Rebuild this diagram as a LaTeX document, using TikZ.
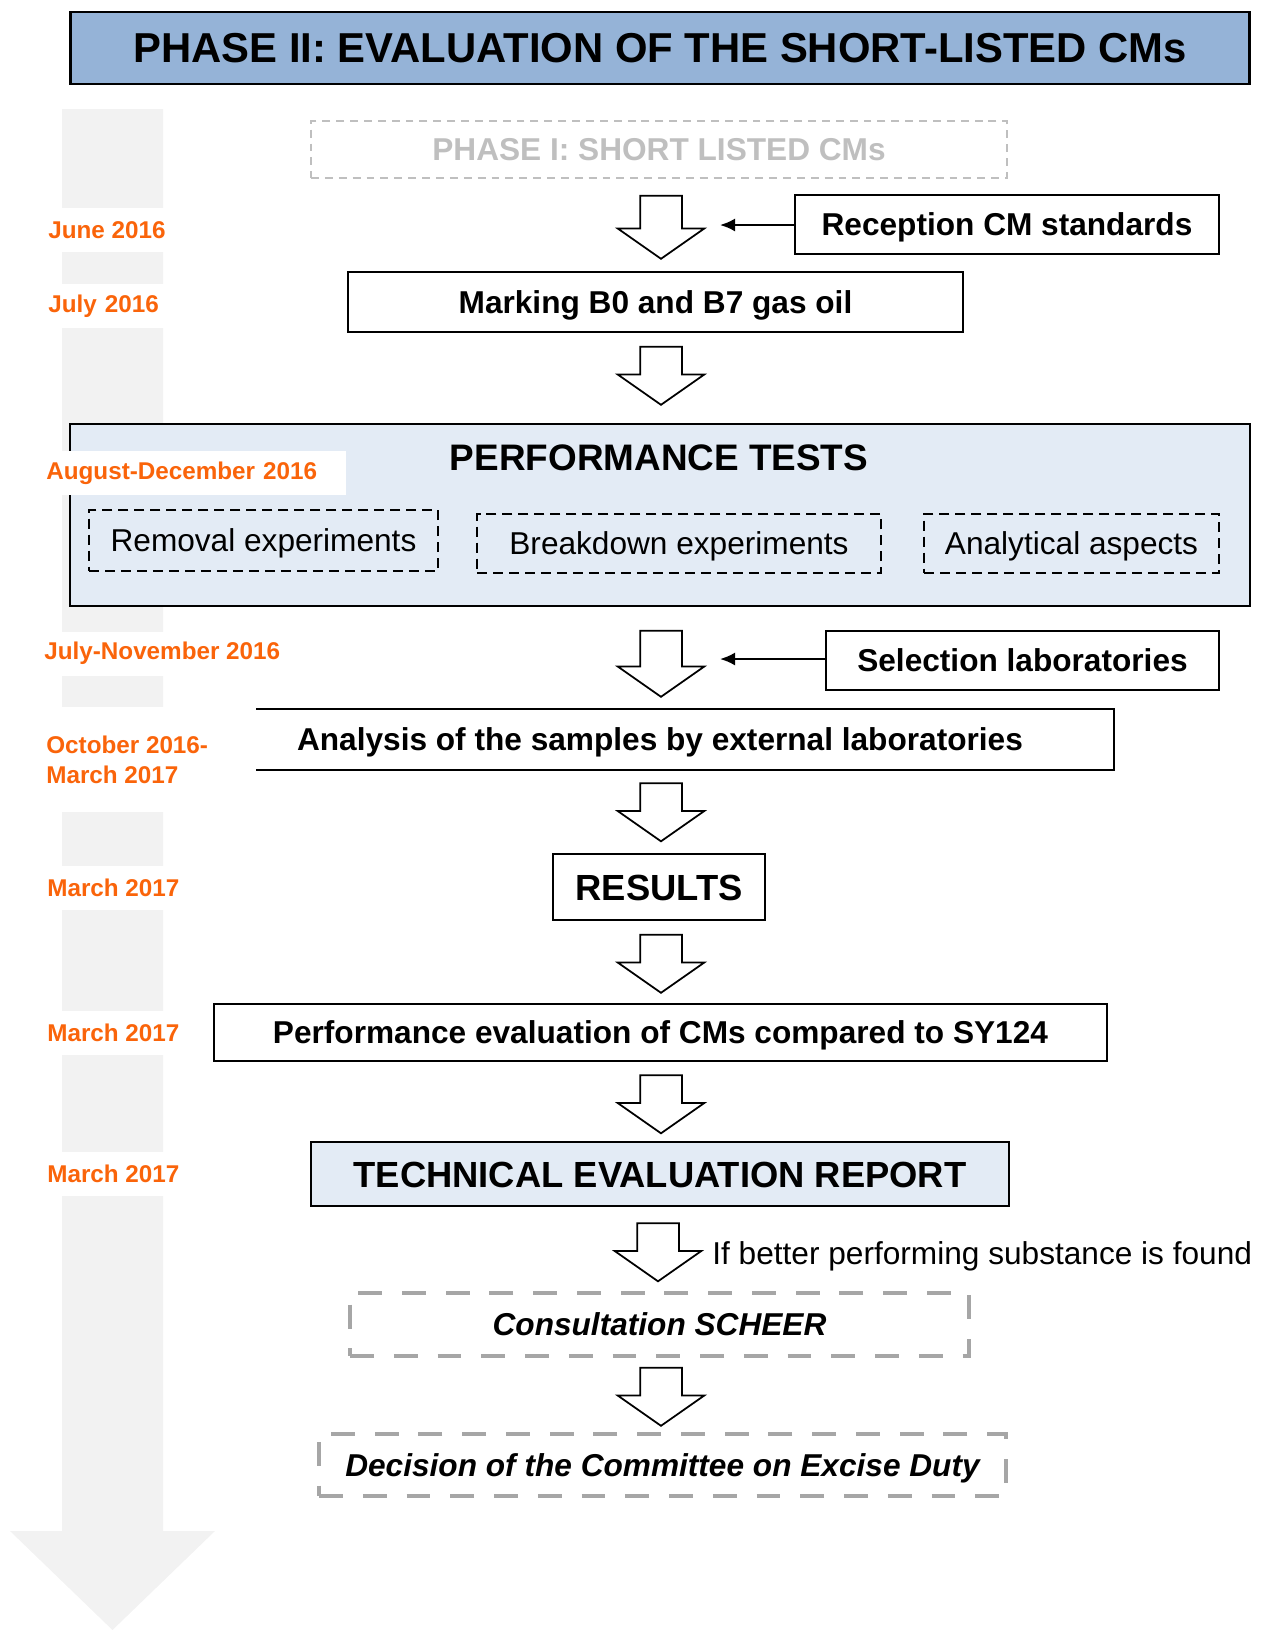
\documentclass[tikz,border=0pt]{standalone}
\usepackage{fontspec}
\setmainfont{Liberation Sans}
\usetikzlibrary{arrows.meta, shapes.arrows, positioning}
\definecolor{datecol}{RGB}{250,100,10}
\definecolor{headblue}{RGB}{149,179,215}
\definecolor{paleblue}{RGB}{227,235,245}
\definecolor{timegray}{RGB}{242,242,242}
\definecolor{ghostgray}{RGB}{191,191,191}
\definecolor{dashgray}{RGB}{166,166,166}
\tikzstyle{stage} = [rectangle, draw, line width=1.2pt, inner sep=0pt, text height=12.9pt, text depth=0pt, font=\fontsize{18}{22}\selectfont\bfseries]
\tikzstyle{headbox} = [stage, fill=headblue, line width=1.6pt, text height=17pt, font=\fontsize{23.8}{28}\selectfont\bfseries]
\tikzstyle{bigstage} = [stage, fill=paleblue, text height=14.8pt, font=\fontsize{20.7}{25}\selectfont\bfseries]
\tikzstyle{testbox} = [rectangle, draw, dash pattern=on 5.7pt off 3.4pt, line width=1.2pt, inner sep=0pt, text height=12.9pt, text depth=0pt, font=\fontsize{18}{22}\selectfont]
\tikzstyle{ghostbox} = [rectangle, draw=ghostgray, dash pattern=on 4.5pt off 3.4pt, line width=1pt, inner sep=0pt, text height=12.9pt, text depth=0pt, text=ghostgray, font=\fontsize{18}{22}\selectfont\bfseries]
\tikzstyle{optbox} = [rectangle, draw=dashgray, dash pattern=on 13.6pt off 11.3pt, line width=2.6pt, inner sep=0pt, text height=12.9pt, text depth=0pt, font=\fontsize{18}{22}\selectfont\bfseries\itshape]
\tikzstyle{when} = [anchor=west, fill=white, text=datecol, inner xsep=0.04cm, inner ysep=0pt, minimum height=0.88cm, align=left, font=\fontsize{13.8}{17}\selectfont\bfseries]
\tikzstyle{flow} = [single arrow, draw, fill=white, rotate=-90, line width=1pt, inner xsep=0pt, inner ysep=0.4cm, minimum height=1.16cm, minimum width=1.7cm, single arrow head extend=0.45cm, single arrow tip angle=110]
\tikzstyle{feed} = [draw, line width=1.2pt, -{Latex[length=0.3cm, width=0.26cm]}]

\begin{document}
\begin{tikzpicture}[x=0.02cm, y=-0.02cm]
\useasboundingbox (0,0) rectangle (1263,1630);
% time line in the background
\fill[timegray] (62,109) -- (163,109) -- (163,1531) -- (215,1531) -- (112.5,1630) -- (10,1531) -- (62,1531) -- cycle;

\node[headbox, minimum width=23.6cm, minimum height=1.44cm] (phase2) at (660,48) {PHASE II: EVALUATION OF THE SHORT-LISTED CMs};
\node[ghostbox, minimum width=13.92cm, minimum height=1.14cm] (phase1) at (659,149.5) {PHASE I: SHORT LISTED CMs};

\node[flow, minimum height=1.26cm] (f1) at (661,220) {};
\node[stage, minimum width=8.48cm, minimum height=1.18cm] (recep) at (1007,224.5) {Reception CM standards};
\coordinate (f1in) at (720,225);
\path[feed] (recep.west |- f1in) -- (f1in);

\node[stage, minimum width=12.3cm, minimum height=1.2cm] (marking) at (655.5,302) {Marking B0 and B7 gas oil};
\node[flow] (f2) at (661,368.5) {};

% performance tests
\node[rectangle, draw, fill=paleblue, line width=1.2pt, minimum width=23.6cm, minimum height=3.64cm] (tests) at (660,515) {};
\node[font=\fontsize{21}{25}\selectfont\bfseries] (teststitle) at (659,458) {PERFORMANCE TESTS};
\node[testbox, minimum width=6.98cm, minimum height=1.22cm] (removal) at (263.5,540.5) {Removal experiments};
\node[testbox, minimum width=8.08cm, minimum height=1.18cm] (breakdown) at (679,543.5) {Breakdown experiments};
\node[testbox, minimum width=5.9cm, minimum height=1.18cm] (analytic) at (1071.5,543.5) {Analytical aspects};

\node[flow, minimum height=1.32cm] (f3) at (661,656.5) {};
\node[stage, minimum width=7.86cm, minimum height=1.18cm] (select) at (1022.5,660.5) {Selection laboratories};
\coordinate (f3in) at (720,659);
\path[feed] (select.west |- f3in) -- (f3in);

\node[stage, draw=none, minimum width=17.12cm, minimum height=1.18cm] (analysis) at (685,739.5) {\hspace*{-1cm}Analysis of the samples by external laboratories};
\draw[line width=1.2pt] (analysis.north west) -- (analysis.north east) -- (analysis.south east) -- (analysis.south west);
\node[flow] (f4) at (661,805) {};

\node[stage, minimum width=4.24cm, minimum height=1.32cm, text height=14.8pt, font=\fontsize{20.7}{25}\selectfont\bfseries] (results) at (659,887) {RESULTS};
\node[flow] (f5) at (661,956.5) {};

\node[stage, minimum width=17.86cm, minimum height=1.14cm] (perfeval) at (660.5,1032.5) {Performance evaluation of CMs compared to SY124};
\node[flow] (f6) at (661,1097) {};

\node[bigstage, minimum width=13.96cm, minimum height=1.28cm] (report) at (660,1174) {TECHNICAL EVALUATION REPORT};
\node[flow] (f7) at (658,1245) {};
\node[anchor=west, inner sep=0pt, font=\fontsize{18}{22}\selectfont] (iflabel) at (712,1256) {If better performing substance is found};

\node[optbox, minimum width=12.38cm, minimum height=1.26cm] (scheer) at (659.5,1324.5) {Consultation SCHEER};
\node[flow] (f8) at (661,1389.5) {};
\node[optbox, minimum width=13.74cm, minimum height=1.24cm] (decision) at (662.5,1465) {Decision of the Committee on Excise Duty};

% dates
\node[when] (d1) at (46,230) {June 2016};
\node[when, text width=2.36cm] (d2) at (46,306) {July 2016};
\node[when, text width=5.95cm] (d3) at (44,473) {August-December 2016};
\node[when] (d4) at (42,653.5) {July-November 2016};
\node[when, minimum height=2.1cm, font=\fontsize{13.8}{17}\selectfont\bfseries] (d5) at (44,759.5) {October 2016-\\March 2017};
\node[when] (d6) at (45,887.5) {March 2017};
\node[when] (d7) at (45,1033) {March 2017};
\node[when] (d8) at (45,1174) {March 2017};
\end{tikzpicture}
\end{document}
